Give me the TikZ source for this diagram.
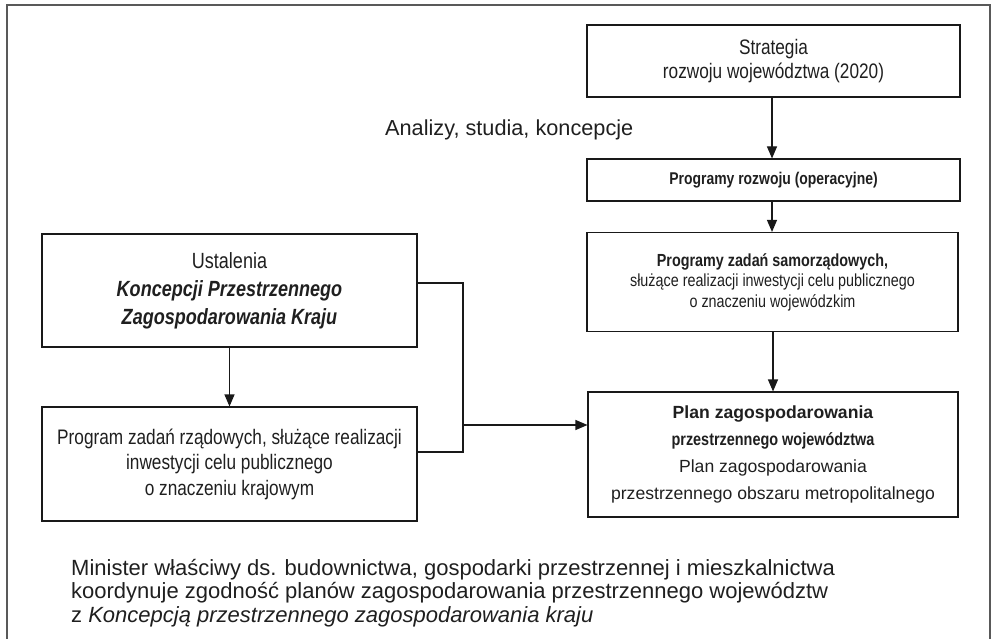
\documentclass[tikz,border=0pt]{standalone}
\usepackage{fontspec}
\setmainfont{Liberation Sans}
\newfontfamily\narrowfont[FakeStretch=0.82]{Liberation Sans}
\usetikzlibrary{arrows.meta}

\newcommand{\fs}[2]{\fontsize{#1pt}{#2pt}\selectfont}

\tikzset{
  box/.style={draw=black!90, line width=1.1pt, inner sep=0pt, align=center,
              text=black!88},
  conn/.style={line width=1.1pt, draw=black!90},
  arr/.style={conn, -{Triangle[length=12pt,width=10pt]}},
  frameline/.style={line width=1.4pt, draw=black!65},
  plaintext/.style={inner sep=0pt, text=black!88}
}

\begin{document}
\begin{tikzpicture}[x=1pt,y=-1pt]
  \useasboundingbox (0,0) rectangle (993,639);

  % outer frame, open at the bottom
  \coordinate (fbl) at (7,639);
  \coordinate (ftl) at (7,5);
  \coordinate (ftr) at (990,5);
  \coordinate (fbr) at (990,639);
  \draw[frameline] (fbl) -- (ftl) -- (ftr) -- (fbr);

  % right column
  \node[box, font={\narrowfont\fs{21}{24}}, minimum width=373pt, minimum height=72pt]
    (strat) at (773.5,61)
    {Strategia\\rozwoju województwa (2020)};
  \node[box, font={\narrowfont\fs{17}{20}\bfseries}, minimum width=373pt, minimum height=42pt]
    (prog) at (773.5,180)
    {Programy rozwoju (operacyjne)};
  \node[box, font={\narrowfont\fs{17.5}{20.5}}, minimum width=371pt, minimum height=99pt]
    (samo) at (772.5,282)
    {\textbf{Programy zadań samorządowych,}\\
     służące realizacji inwestycji celu publicznego\\
     o znaczeniu wojewódzkim};
  \node[box, font={\fs{17.6}{27}}, minimum width=370pt, minimum height=125pt]
    (plan) at (773,454.5)
    {\textbf{Plan zagospodarowania}\\
     {\narrowfont\bfseries przestrzennego województwa}\\
     Plan zagospodarowania\\
     przestrzennego obszaru metropolitalnego};

  % left column
  \node[box, font={\narrowfont\fs{22}{28}}, minimum width=375pt, minimum height=113pt]
    (ust) at (229.5,290.5)
    {Ustalenia\\
     \textbf{\textit{Koncepcji Przestrzennego}}\\
     \textbf{\textit{Zagospodarowania Kraju}}};
  \node[box, font={\narrowfont\fs{21}{25.5}}, minimum width=375pt, minimum height=114pt]
    (rzad) at (229.5,464)
    {Program zadań rządowych, służące realizacji\\
     inwestycji celu publicznego\\
     o znaczeniu krajowym};

  % free texts
  \node[plaintext, anchor=base west, font=\fs{21.7}{26}] (anal) at (385,136)
    {Analizy, studia, koncepcje};
  \node[plaintext, anchor=north west, align=left, font=\fs{22}{23.5}] (note) at (71,559)
    {Minister właściwy ds. budownictwa, gospodarki przestrzennej i mieszkalnictwa\\
     koordynuje zgodność planów zagospodarowania przestrzennego województw\\
     z \textit{Koncepcją przestrzennego zagospodarowania kraju}};

  % vertical flow on the right
  \draw[arr] (strat.south -| 772,0) -- (prog.north -| 772,0);
  \draw[arr] (prog.south -| 772,0) -- (samo.north -| 772,0);
  \draw[arr] (samo.south -| 773,0) -- (plan.north -| 773,0);

  % left column flow
  \draw[arr] (ust) -- (rzad);

  % collecting bus from both left boxes into the plan
  \coordinate (bustop) at (463,283);
  \coordinate (busbot) at (463,452);
  \coordinate (busmid) at (463,425);
  \draw[conn] (ust.east |- bustop) -- (bustop) -- (busbot) -- (rzad.east |- busbot);
  \draw[arr] (busmid) -- (plan.west |- busmid);
\end{tikzpicture}
\end{document}
